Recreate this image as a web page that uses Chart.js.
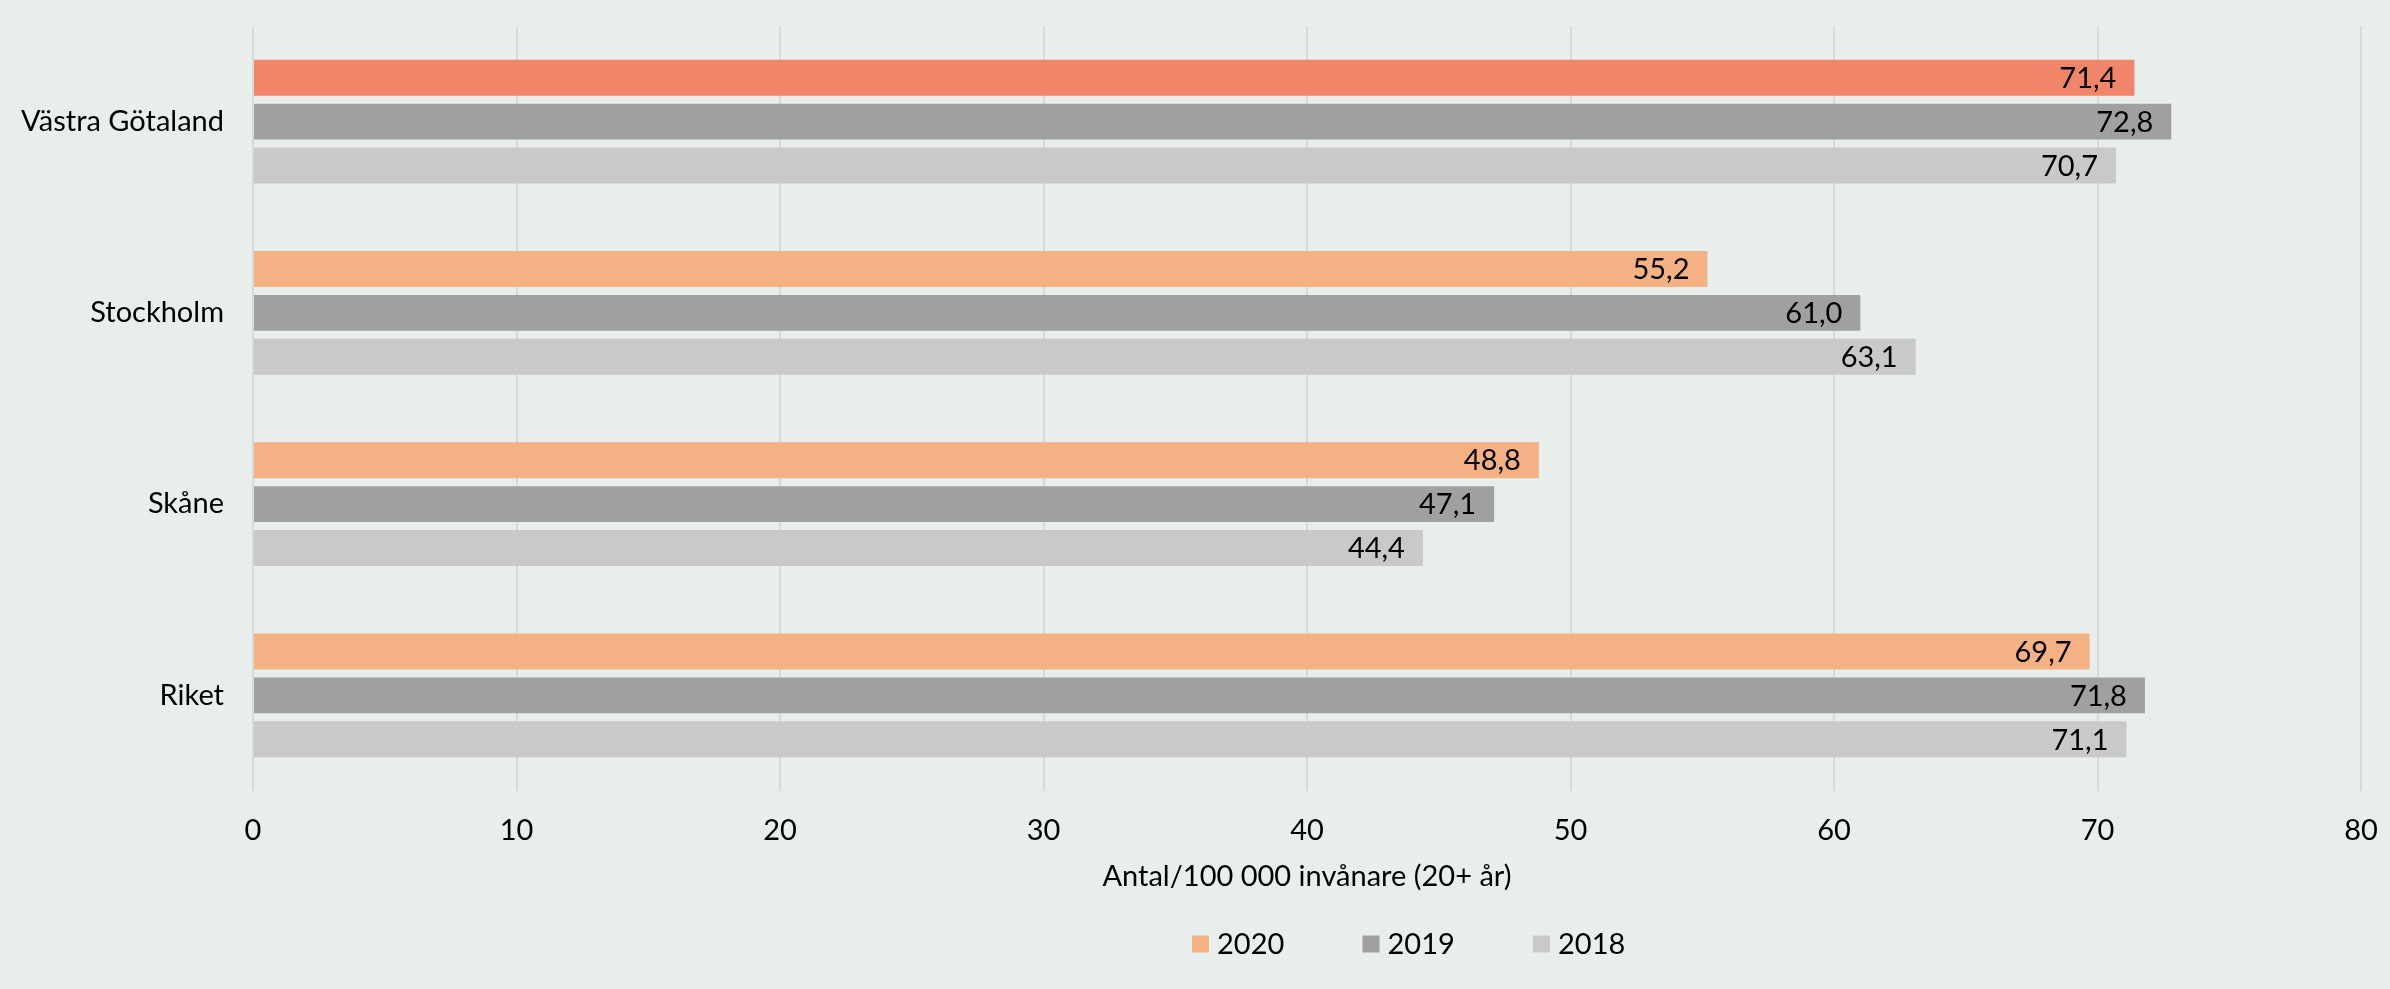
<!DOCTYPE html>
<html>
<head>
<meta charset="utf-8">
<script src="https://cdn.jsdelivr.net/npm/chart.js@4/dist/chart.umd.min.js"></script>
<style>
    html, body { margin: 0; padding: 0; background: #e8eeec; }
    #wrap { width: 2390px; height: 989px; }
</style>
</head>
<body>
<div id="wrap"><canvas id="chart" width="2390" height="989"></canvas></div>
<script>
// Data
const categories = ['Västra Götaland', 'Stockholm', 'Skåne', 'Riket'];
const years = ['2020', '2019', '2018'];
const values2020 = [71.4, 55.2, 48.8, 69.7];
const values2019 = [72.8, 61.0, 47.1, 71.8];
const values2018 = [70.7, 63.1, 44.4, 71.1];
const xTicks = [0, 10, 20, 30, 40, 50, 60, 70, 80];
const axisTitle = 'Antal/100 000 invånare (20+ år)';

const FONT = 'Lato, "Open Sans", sans-serif';
const seriesColors = ['#f4b183', '#a0a0a0', '#c9c9c9'];
const highlightColor = '#f0856a';
const highlightIndex = 0;

// value labels drawn inside bar ends
const valueLabels = {
    id: 'valueLabels',
    afterDatasetsDraw(chart) {
        const ctx = chart.ctx;
        ctx.save();
        ctx.font = '29px ' + FONT;
        ctx.fillStyle = '#000';
        ctx.textAlign = 'right';
        ctx.textBaseline = 'middle';
        chart.data.datasets.forEach((ds, i) => {
            chart.getDatasetMeta(i).data.forEach((bar, j) => {
                const label = ds.data[j].toFixed(1).replace('.', ',');
                ctx.fillText(label, bar.x - 18, bar.y + 1);
            });
        });
        ctx.restore();
    }
};

// legend under the axis title, a bit right of centre like the original
const bottomLegend = {
    id: 'bottomLegend',
    afterDraw(chart) {
        const ctx = chart.ctx;
        const startX = 1192, step = 170.5, y = 944, box = 17;
        ctx.save();
        ctx.font = '29px ' + FONT;
        ctx.textAlign = 'left';
        ctx.textBaseline = 'middle';
        chart.data.datasets.forEach((ds, i) => {
            const x = startX + i * step;
            ctx.fillStyle = seriesColors[i];
            ctx.fillRect(x, y - box / 2, box, box);
            ctx.fillStyle = '#000';
            ctx.fillText(ds.label, x + box + 8, y + 1);
        });
        ctx.restore();
    }
};

new Chart(document.getElementById('chart').getContext('2d'), {
    type: 'bar',
    data: {
        labels: categories,
        datasets: [{
            label: years[0],
            data: values2020,
            backgroundColor: (c) => c.dataIndex === highlightIndex ? highlightColor : seriesColors[0]
        }, {
            label: years[1],
            data: values2019,
            backgroundColor: seriesColors[1]
        }, {
            label: years[2],
            data: values2018,
            backgroundColor: seriesColors[2]
        }]
    },
    options: {
        indexAxis: 'y',
        responsive: false,
        animation: false,
        categoryPercentage: 0.69,
        barPercentage: 0.818,
        layout: { padding: { top: 26, right: 29, left: 0, bottom: 90.6 } },
        plugins: {
            legend: { display: false },
            tooltip: { enabled: false }
        },
        scales: {
            x: {
                min: xTicks[0],
                max: xTicks[xTicks.length - 1],
                afterBuildTicks: (s) => { s.ticks = xTicks.map(v => ({ value: v })); },
                afterFit: (s) => {
                    s.height = 107.4;
                    s.paddingLeft = 0;
                    s.paddingRight = 0;
                },
                grid: { color: '#d9d9d9', lineWidth: 2, drawTicks: false },
                border: { display: false },
                ticks: { font: { family: FONT, size: 29 }, color: '#000', padding: 22 },
                title: {
                    display: true,
                    text: axisTitle,
                    font: { family: FONT, size: 29 },
                    color: '#000',
                    padding: { top: 8, bottom: 4 }
                }
            },
            y: {
                grid: { display: false, drawTicks: false },
                border: { display: false },
                ticks: { font: { family: FONT, size: 29 }, color: '#000', padding: 29 },
                afterFit: (s) => {
                    s.width = 253;
                    s.paddingTop = 0;
                    s.paddingBottom = 0;
                }
            }
        }
    },
    plugins: [valueLabels, bottomLegend]
});
</script>
</body>
</html>
